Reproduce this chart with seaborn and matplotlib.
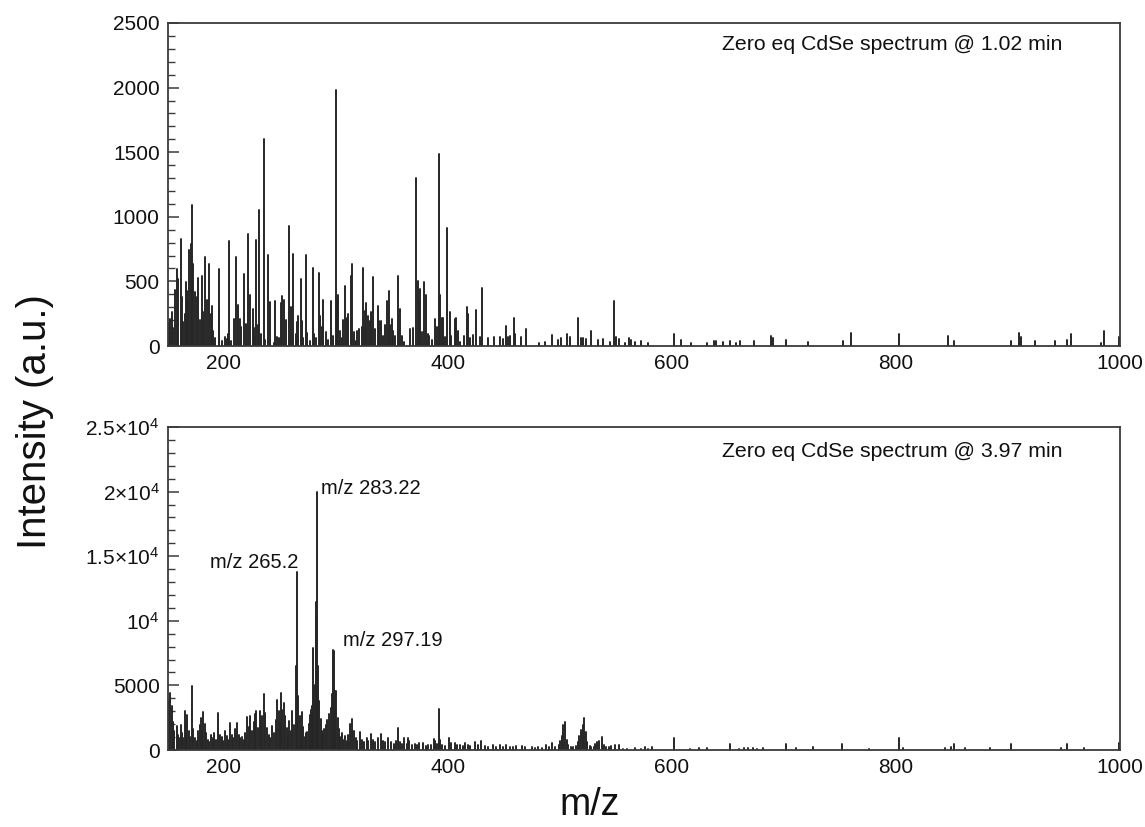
import matplotlib
matplotlib.use("Agg")
import matplotlib.pyplot as plt
from matplotlib.ticker import FixedLocator, MultipleLocator, FixedFormatter
import numpy as np
import pandas as pd
import seaborn as sns

# ---- spectrum @ 1.02 min : peak m/z and intensity (a.u.) ----
mz_early = [
    150.8, 151.8, 153.5, 154.8, 156.5, 157.8, 159.3, 161.4, 162.5, 163.8, 165.0, 166.1,
    166.7, 168.0, 169.1, 170.3, 171.2, 172.7, 174.0, 175.5, 177.2, 178.5, 180.2, 181.5,
    183.5, 184.5, 186.5, 188.0, 188.9, 190.5, 192.0, 195.4, 196.0, 198.0, 200.5, 202.6,
    203.5, 204.7, 206.5, 208.6, 211.0, 212.8, 214.0, 215.5, 217.6, 220.0, 221.5, 223.5,
    225.5, 226.5, 228.0, 229.0, 230.5, 231.6, 233.0, 235.5, 237.0, 239.7, 241.5, 244.5,
    246.0, 247.5, 249.0, 251.0, 252.0, 253.5, 255.0, 257.9, 259.5, 261.8, 264.0, 265.4,
    266.5, 268.4, 269.5, 271.0, 273.2, 274.4, 276.5, 279.2, 280.5, 282.0, 284.8, 286.0,
    287.5, 288.7, 290.8, 293.0, 295.9, 297.0, 299.8, 301.0, 301.9, 303.5, 305.0, 306.5,
    307.9, 309.5, 311.0, 313.2, 314.7, 316.5, 318.0, 319.2, 321.0, 323.0, 324.0, 325.5,
    326.7, 328.2, 330.0, 331.5, 333.0, 334.5, 337.2, 338.5, 340.1, 342.0, 343.5, 345.5,
    347.0, 348.5, 349.7, 351.0, 352.5, 355.7, 357.5, 359.0, 360.5, 366.5, 368.5, 371.8,
    373.0, 374.0, 375.4, 377.0, 379.0, 380.8, 382.0, 383.5, 386.0, 388.6, 390.0, 391.6,
    392.8, 394.6, 396.0, 397.5, 399.3, 401.4, 403.0, 405.9, 407.6, 409.4, 411.0, 414.0,
    416.7, 417.5, 419.4, 422.6, 425.3, 428.3, 430.7, 435.8, 441.1, 446.2, 449.5, 452.2,
    453.7, 455.8, 458.8, 460.3, 465.6, 470.1, 481.2, 486.6, 492.6, 498.5, 500.9, 506.6,
    508.7, 516.5, 518.9, 521.0, 523.3, 527.8, 533.8, 538.3, 544.9, 548.5, 550.0, 553.0,
    558.3, 561.3, 563.7, 567.3, 572.1, 578.4, 601.7, 608.3, 616.7, 631.7, 637.6, 639.0,
    646.0, 652.0, 657.0, 660.7, 673.5, 688.5, 690.5, 702.0, 721.3, 752.7, 760.2, 802.4,
    846.2, 852.2, 902.7, 909.6, 911.4, 924.6, 941.6, 952.4, 956.5, 982.9, 985.8, 999.6,
]
int_early = [
    180, 206, 260, 141, 430, 596, 520, 828, 380, 185, 250, 493,
    424, 350, 745, 792, 1092, 637, 420, 380, 527, 200, 540, 260,
    689, 360, 635, 250, 308, 120, 60, 596, 283, 40, 70, 51,
    90, 810, 39, 206, 689, 321, 206, 150, 560, 167, 869, 398,
    283, 141, 60, 822, 160, 1049, 90, 1606, 50, 702, 339, 26,
    347, 70, 60, 330, 385, 360, 200, 925, 300, 714, 90, 185,
    230, 522, 193, 60, 702, 103, 40, 601, 90, 60, 565, 230,
    150, 360, 108, 50, 347, 80, 1979, 360, 398, 120, 60, 200,
    468, 220, 250, 545, 637, 110, 40, 116, 130, 150, 604, 270,
    334, 231, 190, 260, 535, 130, 308, 190, 193, 80, 160, 347,
    429, 160, 206, 120, 80, 545, 283, 80, 30, 130, 141, 1298,
    501, 360, 442, 110, 493, 398, 90, 77, 50, 206, 150, 1485,
    398, 218, 214, 70, 912, 266, 80, 211, 214, 119, 30, 77,
    303, 248, 64, 85, 275, 72, 451, 64, 72, 72, 52, 157,
    72, 80, 214, 90, 67, 129, 26, 34, 85, 46, 62, 90,
    67, 214, 64, 59, 54, 116, 46, 54, 34, 348, 67, 52,
    21, 64, 46, 34, 41, 26, 90, 46, 21, 26, 39, 39,
    34, 41, 26, 39, 41, 77, 59, 46, 34, 41, 98, 90,
    77, 41, 41, 98, 67, 41, 39, 46, 90, 21, 119, 72,
]

# ---- spectrum @ 3.97 min : peak m/z and intensity (a.u.) ----
mz_late = [
    150.5, 151.8, 153.3, 154.5, 155.5, 157.8, 159.0, 160.0, 161.4, 162.5, 163.5, 165.2,
    166.2, 167.3, 168.5, 169.5, 171.2, 172.5, 174.0, 175.5, 177.0, 178.2, 179.3, 180.5,
    181.7, 183.0, 184.2, 185.5, 187.0, 188.5, 190.0, 191.5, 193.0, 195.1, 196.5, 198.0,
    199.5, 201.0, 202.5, 204.0, 205.6, 207.0, 208.5, 210.0, 211.6, 213.0, 214.5, 216.0,
    217.5, 219.0, 220.6, 222.0, 223.5, 225.0, 226.5, 227.8, 228.9, 230.5, 231.9, 233.2,
    234.4, 235.5, 237.0, 238.5, 240.0, 241.5, 243.0, 244.5, 246.2, 247.5, 249.0, 250.0,
    251.0, 252.2, 253.4, 254.6, 256.0, 257.0, 258.0, 259.5, 261.0, 262.5, 263.9, 265.2,
    266.3, 267.5, 268.7, 269.9, 271.0, 272.2, 273.3, 274.4, 275.6, 276.8, 277.9, 278.9,
    279.8, 280.8, 281.8, 282.4, 283.22, 284.2, 285.2, 286.3, 287.4, 288.5, 289.6, 290.7,
    292.3, 293.5, 295.3, 296.3, 297.19, 298.2, 299.3, 300.4, 301.5, 302.6, 303.8, 305.0,
    306.5, 308.0, 309.5, 311.0, 312.9, 314.6, 316.0, 317.5, 319.0, 321.6, 323.0, 325.0,
    327.5, 329.0, 331.2, 333.0, 335.0, 337.5, 340.1, 342.0, 344.0, 346.5, 349.0, 351.5,
    353.5, 355.1, 357.0, 359.0, 361.1, 363.0, 364.0, 365.5, 368.0, 370.5, 372.5, 374.5,
    377.5, 380.0, 382.5, 385.0, 387.4, 388.5, 390.2, 391.9, 393.3, 395.0, 397.5, 400.8,
    403.0, 405.9, 408.5, 411.0, 413.0, 414.9, 417.5, 420.0, 423.8, 426.5, 429.8, 433.0,
    436.0, 440.3, 443.0, 446.3, 449.0, 452.2, 455.0, 458.0, 461.2, 465.7, 469.0, 474.7,
    478.0, 480.6, 484.0, 487.2, 490.0, 493.2, 496.0, 499.0, 500.3, 501.5, 503.0, 504.6,
    506.0, 507.5, 509.5, 512.0, 514.5, 516.0, 517.1, 518.9, 520.2, 521.6, 523.1, 524.5,
    526.5, 528.0, 530.0, 531.5, 533.0, 535.0, 537.4, 539.0, 541.0, 543.4, 546.0, 549.5,
    552.4, 556.0, 560.0, 567.4, 572.0, 576.3, 579.0, 582.3, 601.7, 616.0, 624.2, 631.6,
    651.7, 660.0, 664.5, 668.0, 672.0, 676.0, 681.0, 701.9, 710.9, 725.8, 752.1, 776.0,
    802.3, 806.5, 843.9, 849.0, 852.0, 861.8, 884.3, 902.8, 947.0, 953.0, 968.0, 999.6,
]
int_late = [
    3800, 4400, 3390, 2200, 1500, 1848, 1200, 900, 1900, 1300, 900, 3003,
    2000, 2747, 1500, 1000, 4980, 1600, 900, 700, 1500, 1900, 2490, 1500,
    2926, 2000, 1300, 800, 600, 1200, 900, 1300, 800, 2875, 1200, 1000,
    700, 1500, 1100, 800, 2054, 1200, 900, 1600, 2105, 1200, 900, 1000,
    800, 1300, 2567, 1800, 2670, 1500, 2200, 2800, 3003, 1700, 3003, 2200,
    2600, 4338, 2875, 1700, 1200, 900, 1848, 1300, 2300, 3900, 3000, 2100,
    4415, 3100, 3645, 2600, 1700, 1200, 2233, 1500, 3003, 1900, 6470, 13800,
    4200, 2600, 1700, 2926, 1800, 1000, 1300, 1386, 2000, 2700, 3100, 3390,
    7880, 5000, 11475, 10320, 20000, 6500, 3800, 2400, 1500, 1200, 1600, 1900,
    2360, 2800, 3260, 4300, 7750, 7700, 4600, 4544, 2500, 1600, 1000, 1300,
    800, 1100, 700, 1200, 1977, 2410, 1500, 900, 700, 1386, 800, 600,
    900, 700, 1206, 800, 600, 900, 1206, 700, 600, 900, 650, 500,
    700, 1720, 600, 500, 900, 450, 950, 720, 400, 450, 350, 565,
    565, 300, 400, 350, 822, 700, 500, 3135, 771, 400, 300, 900,
    565, 514, 350, 400, 300, 565, 350, 300, 643, 350, 693, 300,
    250, 386, 250, 386, 250, 386, 200, 250, 308, 308, 200, 205,
    150, 205, 150, 386, 200, 514, 200, 400, 700, 1080, 1928, 2185,
    771, 400, 250, 205, 300, 600, 1080, 1542, 1900, 2493, 1414, 600,
    300, 200, 205, 500, 643, 700, 1028, 400, 250, 205, 300, 350,
    386, 100, 80, 128, 80, 257, 100, 205, 900, 60, 128, 128,
    437, 100, 180, 120, 180, 100, 128, 437, 128, 257, 437, 51,
    900, 128, 180, 200, 437, 128, 128, 437, 128, 437, 128, 514,
]

# annotated peaks in the later spectrum
label_mz = [265.2, 283.22, 297.19]
label_text = ["m/z 265.2", "m/z 283.22", "m/z 297.19"]

panel_titles = ["Zero eq CdSe spectrum @ 1.02 min", "Zero eq CdSe spectrum @ 3.97 min"]

x_ticks = [200, 400, 600, 800, 1000]
early_yticks = [0, 500, 1000, 1500, 2000, 2500]
late_yticks = [0, 5000, 10000, 15000, 20000, 25000]
late_ytick_labels = ["0", "5000", r"$\mathregular{10^{4}}$", r"$\mathregular{1.5×10^{4}}$",
                     r"$\mathregular{2×10^{4}}$", r"$\mathregular{2.5×10^{4}}$"]

# ---- styling ----
sns.set_theme(style="white")
plt.rcParams["font.family"] = ["Liberation Sans", "DejaVu Sans"]
plt.rcParams["mathtext.fontset"] = "custom"
plt.rcParams["mathtext.rm"] = "Liberation Sans"
plt.rcParams["mathtext.it"] = "Liberation Sans:italic"
plt.rcParams["mathtext.bf"] = "Liberation Sans:bold"

STICK = "#262626"
EDGE = "#3a3a3a"


def stick_frame(mz, inten):
    """Each peak becomes a vertical segment from the baseline to its intensity."""
    n = len(mz)
    return pd.DataFrame({
        "mz": np.repeat(mz, 2),
        "intensity": np.ravel(np.column_stack([np.zeros(n), inten])),
        "peak": np.repeat(np.arange(n), 2),
    })


fig = plt.figure(figsize=(11.45, 8.27), dpi=100)
ax_top = fig.add_axes([0.1467, 0.5816, 0.8314, 0.3906])
ax_bot = fig.add_axes([0.1467, 0.0931, 0.8314, 0.3906])

for ax, mz, inten in [(ax_top, mz_early, int_early), (ax_bot, mz_late, int_late)]:
    sns.lineplot(data=stick_frame(mz, inten), x="mz", y="intensity", units="peak",
                 estimator=None, color=STICK, linewidth=1.4, legend=False, ax=ax)
    ax.set_xlim(150, 1000)
    ax.set_xlabel("")
    ax.set_ylabel("")
    ax.xaxis.set_major_locator(FixedLocator(x_ticks))
    for s in ax.spines.values():
        s.set_visible(True)
        s.set_color(EDGE)
        s.set_linewidth(1.3)
    ax.tick_params(axis="x", length=0, pad=6, labelsize=15, colors="#111111")
    ax.tick_params(axis="y", which="major", direction="in", length=8, width=1.1,
                   color=EDGE, left=True, right=False, labelsize=15, labelcolor="#111111", pad=6)
    ax.tick_params(axis="y", which="minor", direction="in", length=5, width=1.0,
                   color=EDGE, left=True, right=False)

ax_top.set_ylim(0, 2500)
ax_top.yaxis.set_major_locator(FixedLocator(early_yticks))
ax_top.yaxis.set_minor_locator(MultipleLocator(100))

ax_bot.set_ylim(0, 25000)
ax_bot.yaxis.set_major_locator(FixedLocator(late_yticks))
ax_bot.yaxis.set_major_formatter(FixedFormatter(late_ytick_labels))
ax_bot.yaxis.set_minor_locator(MultipleLocator(1000))

for ax, title, yf in [(ax_top, panel_titles[0], 0.932), (ax_bot, panel_titles[1], 0.923)]:
    ax.text(0.940, yf, title, transform=ax.transAxes, ha="right", va="center",
            fontsize=15.3, color="#111111")

# peak labels placed at the tops of their sticks
lookup = dict(zip(mz_late, int_late))
label_style = {
    "m/z 265.2": dict(xytext=(1, 0), ha="right", va="bottom"),
    "m/z 283.22": dict(xytext=(3, 2), ha="left", va="center"),
    "m/z 297.19": dict(xytext=(7, 0), ha="left", va="bottom"),
}
for m, t in zip(label_mz, label_text):
    st = label_style[t]
    ax_bot.annotate(t, xy=(m, lookup[m]), xytext=st["xytext"], textcoords="offset points",
                    ha=st["ha"], va=st["va"], fontsize=14.5, color="#111111")

fig.text(35 / 1145, 1 - 422 / 827, "Intensity (a.u.)", rotation=90, ha="center", va="center",
         fontsize=29, color="#111111")
fig.text(590 / 1145, 1 - 805 / 827, "m/z", ha="center", va="center", fontsize=27,
         color="#111111")

fig.savefig("out.png", dpi=100, facecolor="white")
